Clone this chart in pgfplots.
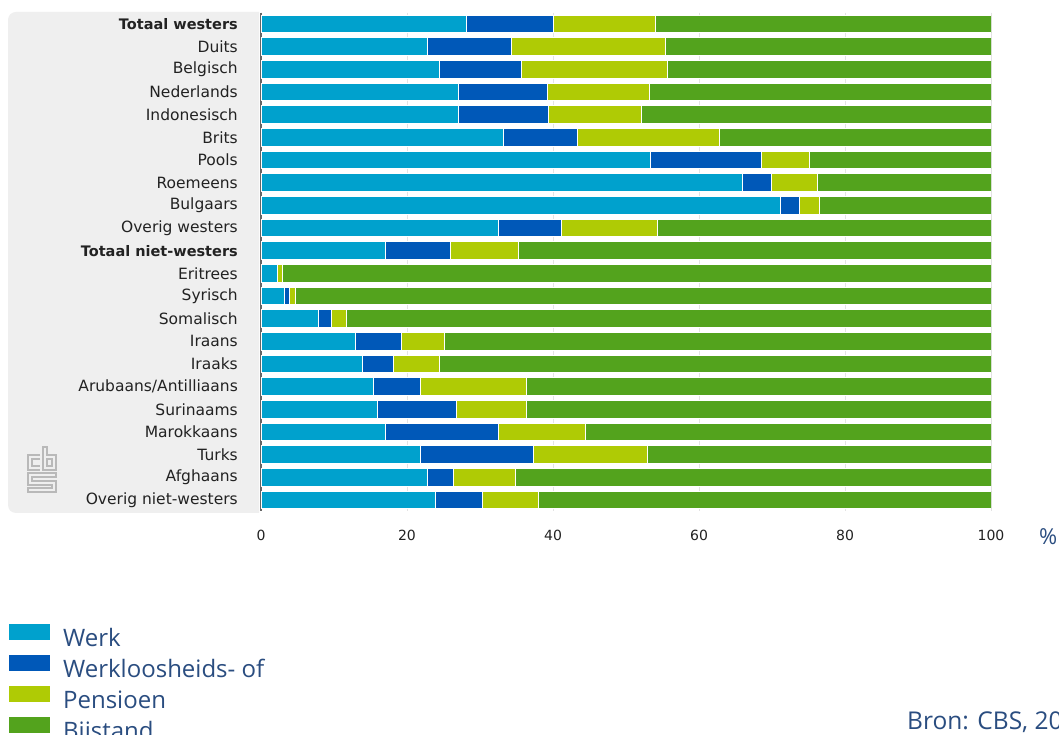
\documentclass[border=0pt]{standalone}
\usepackage{fontspec}
\usepackage{pgfplots}
\usepackage{pgfplotstable}
\pgfplotsset{compat=1.18}
\setmainfont{DejaVu Sans}
\newfontfamily\legendfont{Open Sans}

\definecolor{werk}{HTML}{00A1CD}
\definecolor{werkloos}{HTML}{0058B8}
\definecolor{pensioen}{HTML}{AFCB05}
\definecolor{bijstand}{HTML}{53A31D}
\definecolor{cbsblue}{HTML}{2A4D80}
\definecolor{panel}{HTML}{EFEFEF}
\definecolor{labeltext}{HTML}{222222}

\newcommand{\totaal}[1]{{\fontsize{14.5}{16}\selectfont\bfseries #1}}

% Share of each origin group by type of income (percent)
\pgfplotstableread{
idx werk werkloos pensioen bijstand
0  28.1 12.0 14.0 45.9
1  22.8 11.5 21.1 44.6
2  24.5 11.2 20.0 44.3
3  27.0 12.2 14.0 46.8
4  27.0 12.4 12.7 47.9
5  33.2 10.2 19.4 37.2
6  53.4 15.1  6.6 24.9
7  65.9  4.0  6.3 23.8
8  71.2  2.6  2.7 23.5
9  32.5  8.7 13.1 45.7
10 17.1  8.8  9.3 64.8
11  2.2  0.1  0.6 97.1
12  3.2  0.7  0.8 95.3
13  7.9  1.7  2.1 88.3
14 12.9  6.4  5.8 74.9
15 13.9  4.3  6.3 75.5
16 15.4  6.4 14.6 63.6
17 16.0 10.8  9.6 63.6
18 17.1 15.4 11.9 55.6
19 21.8 15.5 15.6 47.1
20 22.8  3.5  8.6 65.1
21 23.9  6.4  7.7 62.0
}\incomedata

\begin{document}
\begin{tikzpicture}
\clip (0pt,0pt) rectangle (1059pt,735pt);
\fill[white] (0pt,0pt) rectangle (1059pt,735pt);
% grey panel behind the category labels
\fill[panel] (259pt,222pt) -- (16pt,222pt) arc[start angle=270,end angle=180,radius=8pt]
  -- (8pt,715pt) arc[start angle=180,end angle=90,radius=8pt] -- (259pt,723pt) -- cycle;
% logo
\begin{scope}[draw=gray!55, line width=1.1pt, x=1pt, y=1pt]
  \draw (40,280) -- (28,280) -- (28,265) -- (40,265);
  \draw (40,276) -- (32,276) -- (32,269) -- (40,269);
  \draw (43,288) -- (43,265) -- (56,265) -- (56,280) -- (47,280) -- (47,288) -- cycle;
  \draw (47,276) -- (52,276) -- (52,269) -- (47,269) -- cycle;
  \draw (56,262) -- (28,262) -- (28,250) -- (52,250) -- (52,247) -- (28,247)
    -- (28,243) -- (56,243) -- (56,254) -- (32,254) -- (32,258) -- (56,258) -- cycle;
\end{scope}

\begin{axis}[
  at={(261pt,223.7pt)}, anchor=south west,
  scale only axis, width=730pt, height=498.6pt,
  xbar stacked, bar width=17.5pt,
  xmin=0, xmax=100, ymin=-0.5, ymax=21.5, y dir=reverse,
  axis y line*=left, axis x line*=bottom,
  y axis line style={draw=black!60, line width=2pt},
  x axis line style={draw=none},
  major tick length=0pt,
  xtick={0,20,...,100},
  xmajorgrids, major grid style={draw=gray!22, line width=1pt},
  ytick={0,...,21},
  yticklabels={\totaal{Totaal westers},Duits,Belgisch,Nederlands,Indonesisch,Brits,Pools,Roemeens,Bulgaars,Overig westers,\totaal{Totaal niet-westers},Eritrees,Syrisch,Somalisch,Iraans,Iraaks,Arubaans/Antilliaans,Surinaams,Marokkaans,Turks,Afghaans,Overig niet-westers},
  yticklabel style={anchor=east, inner sep=0pt, xshift=-23pt, text=labeltext,
    font=\fontsize{15.5}{16}\selectfont},
  xticklabel style={anchor=north, inner sep=0pt, yshift=-19pt, text=labeltext,
    font=\fontsize{14}{16}\selectfont},
  /pgf/number format/assume math mode=true,
  every axis plot/.append style={draw=white, line width=0.9pt},
  legend style={at={(-0.3459,-0.226)}, anchor=north west, draw=none, fill=none,
    inner sep=0pt, row sep=5pt,
    font=\legendfont\fontsize{24}{24}\selectfont, text=cbsblue,
    nodes={text height=22pt, text depth=4pt, inner sep=0pt}},
  legend cell align=left,
  legend image code/.code={\fill[#1,draw=none] (0pt,-3pt) rectangle (41pt,13pt);
    \path (54pt,0pt);},
]
\addplot[fill=werk] table[x=werk,y=idx]{\incomedata};
\addplot[fill=werkloos] table[x=werkloos,y=idx]{\incomedata};
\addplot[fill=pensioen] table[x=pensioen,y=idx]{\incomedata};
\addplot[fill=bijstand] table[x=bijstand,y=idx]{\incomedata};
\legend{Werk,Werkloosheids- of,Pensioen,Bijstand}
\end{axis}

\node[anchor=base west, inner sep=0pt, text=cbsblue, font=\legendfont\fontsize{22}{22}\selectfont] at (1039pt,190pt) {\%};
\node[anchor=base west, inner sep=0pt, text=cbsblue, font=\legendfont\fontsize{24.5}{24.5}\selectfont] at (907pt,5pt) {Bron: CBS, 2016};
\end{tikzpicture}
\end{document}
